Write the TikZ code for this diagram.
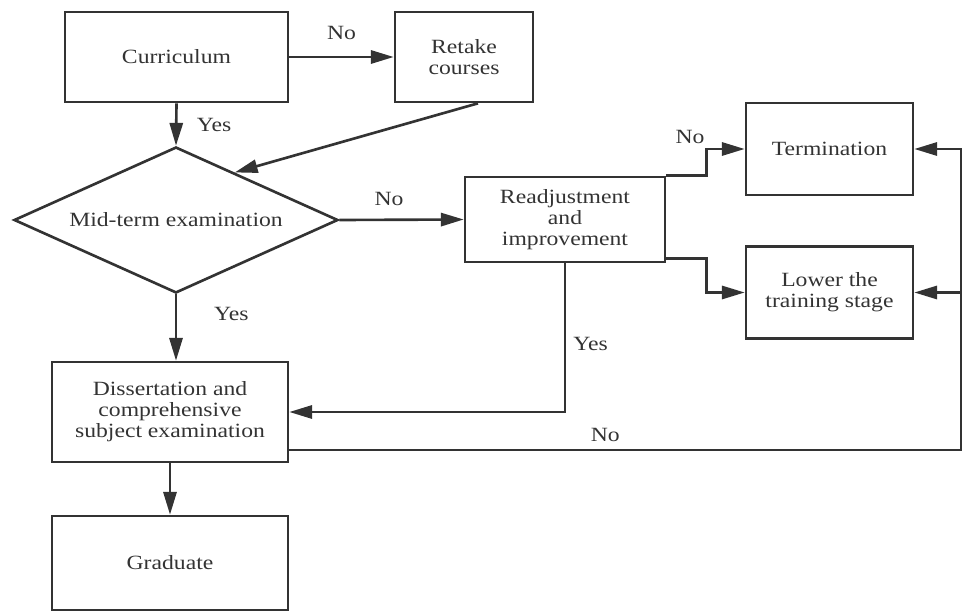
\documentclass[tikz,border=0pt]{standalone}
\usepackage{fontspec}
\setmainfont{Liberation Serif}[FakeStretch=1.17]
\usetikzlibrary{calc,arrows.meta,shapes.geometric}
\definecolor{ink}{HTML}{333333}

\begin{document}
\begin{tikzpicture}[>={Triangle[length=13pt,width=7.5pt]},color=ink,
  font=\fontsize{11.5}{12}\selectfont,
  box/.style={draw,line width=1.5pt,align=center,inner sep=2pt},
  flow/.style={->,line width=1.5pt},
  lbl/.style={inner sep=1pt}]
\useasboundingbox (0,0) rectangle (19.24,-12.24);

\node[box,minimum width=4.46cm,minimum height=1.8cm] (curr) at (3.53,-1.14) {Curriculum};
\node[box,minimum width=2.76cm,minimum height=1.8cm] (retake) at (9.28,-1.14) {Retake\\courses};
\node[draw,diamond,line width=1.5pt,aspect=2.2,inner sep=0pt,minimum width=6.48cm,minimum height=2.92cm] (mid) at (3.52,-4.4) {Mid-term examination};
\node[box,minimum width=4cm,minimum height=1.7cm] (readj) at (11.3,-4.39) {Readjustment\\and\\improvement};
\node[box,minimum width=3.34cm,minimum height=1.84cm] (term) at (16.59,-2.98) {Termination};
\node[box,minimum width=3.34cm,minimum height=1.84cm] (lower) at (16.59,-5.85) {Lower the\\training stage};
\node[box,minimum width=4.72cm,minimum height=2cm] (diss) at (3.4,-8.24) {Dissertation and\\comprehensive\\subject examination};
\node[box,minimum width=4.72cm,minimum height=1.88cm] (grad) at (3.4,-11.26) {Graduate};

\coordinate (rim) at (19.23,-9.0);

% main line
\draw[flow] (curr) -- node[lbl,above=8pt] (noretake) {No} (retake);
\draw[flow] (curr.south) -- node[lbl,right=10pt] (yesmid) {Yes} (mid.north);
\draw[flow] ($(retake.south)+(0.28,0)$) -- ($(mid.north)!0.36!(mid.east)$);
\draw[flow] (mid.east) -- node[lbl,pos=0.4,above=6pt] (noreadj) {No} (readj.west);
\draw[flow] (mid.south) -- node[lbl,pos=0.29,right=20pt] (yesdiss) {Yes} (mid.south |- diss.north);
\draw[flow] (diss) -- (grad);

% readjustment
\draw[flow] (readj.north east) -- ++(0.8,0) |- (term.west);
\node[lbl] (noterm) at (13.8,-2.74) {No};
\draw[flow] ($(readj.south east)+(0,0.1)$) -- ++(0.8,0) |- (lower.west);
\draw[flow] (readj.south) |- node[lbl,pos=0.27,right=3pt] (yesback) {Yes} (diss.east);

% failed dissertation
\draw[line width=1.5pt] (diss.east |- rim) -- node[lbl,pos=0.47,above=3pt] (nofail) {No} (rim);
\draw[flow] (rim) |- (term.east);
\draw[flow] (rim) |- (lower.east);
\end{tikzpicture}
\end{document}
